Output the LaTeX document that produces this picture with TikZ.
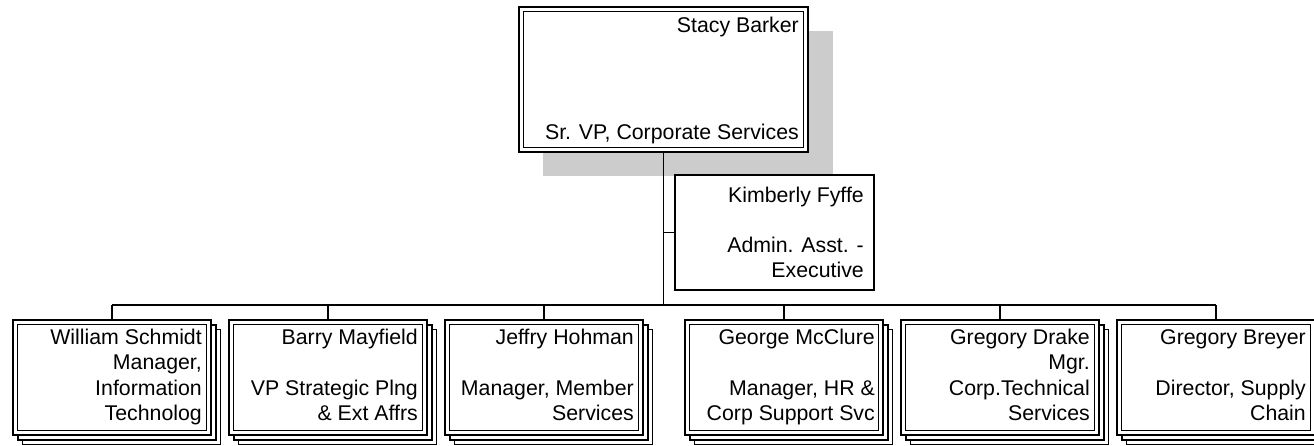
\documentclass[tikz,border=0pt]{standalone}
\usepackage{fontspec}
\setmainfont{Liberation Sans}
\definecolor{shadowgray}{gray}{0.8}
\begin{document}
\begin{tikzpicture}[x=1pt,y=-1pt,
  conn/.style={line width=1.8pt},
  outerbox/.style={draw, fill=white, line width=1.8pt, minimum width=198pt, minimum height=115pt, inner sep=0pt},
  innerbox/.style={draw, line width=1.4pt, minimum width=189pt, minimum height=106pt, inner sep=0pt},
  backbox/.style={draw, fill=white, line width=1.6pt, minimum width=198pt, minimum height=115pt, inner sep=0pt},
  boxtext/.style={anchor=base east, align=right, inner sep=0pt, font=\fontsize{21.3}{25.3}\selectfont}]
\useasboundingbox (0,0) rectangle (1314,446);
\fill[white] (0,0) rectangle (1314,446);
\clip (0,0) rectangle (1314,446);

% top box with shadow
\fill[shadowgray] (543,31) rectangle (833,176);
\node[draw, fill=white, line width=1.8pt, minimum width=289pt, minimum height=145pt, inner sep=0pt] (top) at (663.5,79.5) {};
\node[draw, line width=1.4pt, minimum width=280pt, minimum height=136pt, inner sep=0pt] (topin) at (top.center) {};

% assistant
\node[draw, fill=white, line width=1.6pt, minimum width=199pt, minimum height=115pt, inner sep=0pt] (asst) at (774.5,232.5) {};

% bottom boxes
\foreach \c/\n in {112/b1,328/b2,544/b3,784/b4,1000/b5,1216/b6} {
  \node[backbox] (\n back2) at (\c+9.5,387) {};
  \node[backbox] (\n back1) at (\c+4.75,382.25) {};
  \node[outerbox] (\n) at (\c,377.5) {};
  \node[innerbox] (\n in) at (\n.center) {};
}

% connectors
\coordinate (bus) at (0,305);
\draw[conn] (top.south) -- (top.south |- bus);
\draw[conn] (asst.west -| top.south) -- (asst.west);
\draw[conn] (b1.north |- bus) -- (b6.north |- bus);
\foreach \n in {b1,b2,b3,b4,b5,b6} {
  \draw[conn] (\n.north |- bus) -- (\n.north);
}

% texts (anchor base = baseline of the last line)
\node[boxtext] (ttop1) at (799,33) {Stacy Barker};
\node[boxtext] (ttop2) at (799,140) {Sr. VP, Corporate Services};
\node[boxtext, font=\fontsize{21.3}{25}\selectfont] (tasst) at (864,277.5) {Kimberly Fyffe\\[25pt]Admin. Asst. -\\Executive};
\node[boxtext] (t1) at (202,420.4) {William Schmidt\\Manager,\\Information\\Technolog};
\node[boxtext] (t2) at (418,420.4) {Barry Mayfield\\[25.3pt]VP Strategic Plng\\\& Ext Affrs};
\node[boxtext] (t3) at (634,420.4) {Jeffry Hohman\\[25.3pt]Manager, Member\\Services};
\node[boxtext] (t4) at (875,420.4) {George McClure\\[25.3pt]Manager, HR \&\\Corp Support Svc};
\node[boxtext] (t5) at (1090,420.4) {Gregory Drake\\Mgr.\\Corp.Technical\\Services};
\node[boxtext] (t6) at (1306,420.4) {Gregory Breyer\\[25.3pt]Director, Supply\\Chain};
\end{tikzpicture}
\end{document}
